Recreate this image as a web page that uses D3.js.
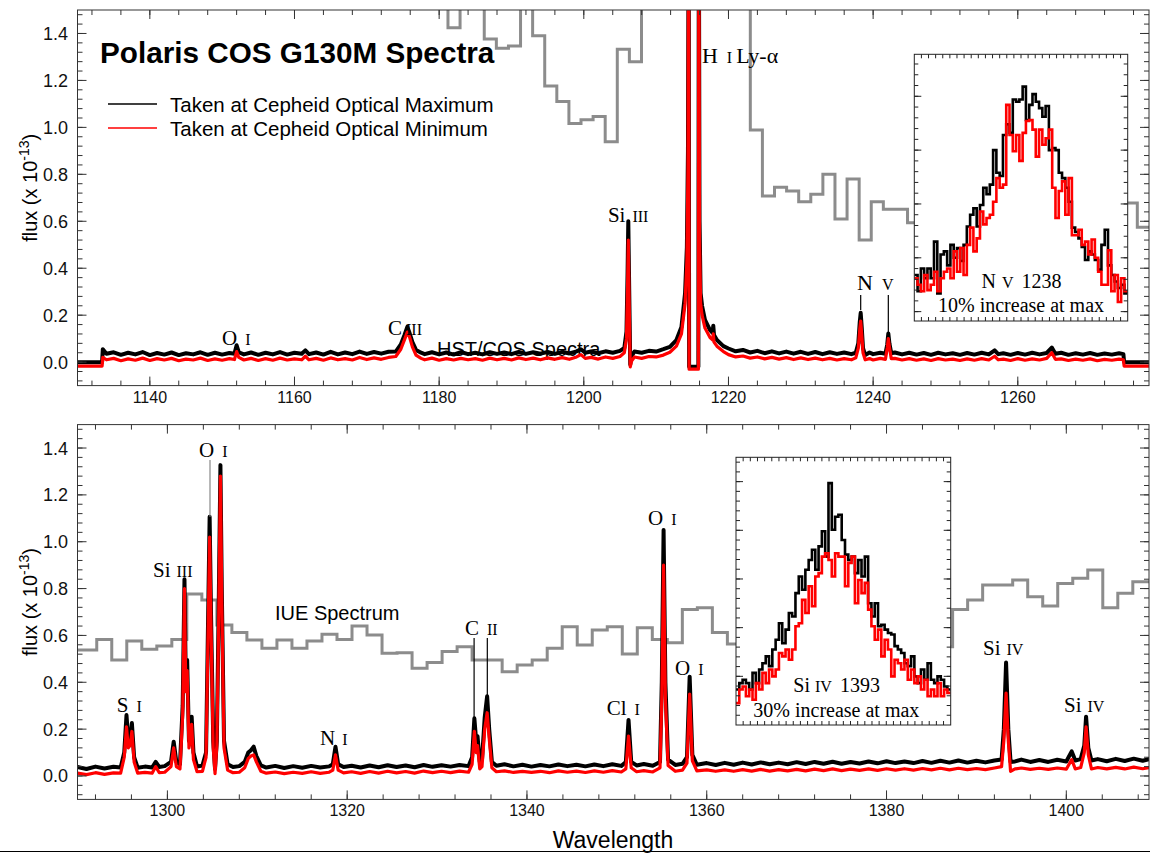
<!DOCTYPE html>
<html><head><meta charset="utf-8">
<script src="https://cdn.jsdelivr.net/npm/d3@7"></script>
<style>body{margin:0;background:#fff}svg{display:block}</style>
</head><body>
<svg id="c" width="1150" height="854"></svg>
<script>
// ---------------- DATA ----------------
const topXTicks = [1140,1160,1180,1200,1220,1240,1260];
const botXTicks = [1300,1320,1340,1360,1380,1400];
const yTicks = [0.0,0.2,0.4,0.6,0.8,1.0,1.2,1.4];
const legendLabels = ["Taken at Cepheid Optical Maximum","Taken at Cepheid Optical Minimum"];

// top panel COS spectrum rows: [wavelength, flux at max, flux at min]
const topSpec = [
[1130.0,0.000,-0.017],[1133.4,0.000,-0.017],[1133.5,0.055,0.020],[1134,0.036,0.010],[1135,0.042,0.016],[1136,0.031,0.006],
[1137,0.040,0.014],[1138,0.033,0.008],[1139,0.043,0.017],[1140,0.030,0.007],[1141,0.039,0.015],[1142,0.032,0.009],
[1143,0.041,0.016],[1144,0.030,0.006],[1145,0.038,0.013],[1146,0.033,0.009],[1147,0.042,0.017],[1148,0.031,0.007],
[1149,0.040,0.014],[1150,0.032,0.008],[1151,0.039,0.015],[1151.7,0.036,0.011],[1152.0,0.072,0.045],[1152.3,0.042,0.020],
[1153,0.033,0.009],[1154,0.041,0.016],[1155,0.031,0.007],[1156,0.040,0.015],[1157,0.033,0.008],[1158,0.043,0.017],
[1159,0.032,0.009],[1160,0.040,0.014],[1161,0.036,0.010],[1161.5,0.050,0.025],[1162,0.034,0.010],[1163,0.041,0.016],
[1164,0.032,0.008],[1165,0.044,0.018],[1166,0.033,0.010],[1167,0.041,0.015],[1168,0.034,0.009],[1169,0.045,0.020],
[1170,0.035,0.011],[1171,0.043,0.018],[1172,0.036,0.012],[1173,0.044,0.020],[1174,0.045,0.024],[1174.7,0.075,0.055],
[1175.2,0.115,0.095],[1175.6,0.150,0.128],[1175.9,0.125,0.108],[1176.3,0.085,0.065],[1176.8,0.052,0.030],[1177.5,0.040,0.016],
[1178,0.034,0.010],[1179,0.042,0.017],[1180,0.033,0.008],[1181,0.041,0.015],[1182,0.032,0.009],[1183,0.043,0.016],
[1184,0.034,0.010],[1185,0.040,0.015],[1186,0.033,0.008],[1187,0.042,0.017],[1188,0.035,0.010],[1189,0.041,0.016],
[1190,0.034,0.009],[1191,0.044,0.018],[1192,0.035,0.011],[1193,0.042,0.017],[1194,0.036,0.010],[1195,0.043,0.018],
[1196,0.035,0.012],[1197,0.044,0.019],[1198,0.037,0.012],[1199,0.046,0.022],[1199.6,0.055,0.032],[1200.2,0.040,0.016],
[1201,0.045,0.020],[1202,0.038,0.013],[1203,0.046,0.022],[1204,0.040,0.016],[1205,0.048,0.024],[1205.6,0.060,0.040],
[1205.9,0.130,0.100],[1206.05,0.380,0.320],[1206.15,0.600,0.520],[1206.28,0.300,0.240],[1206.42,-0.010,-0.020],[1206.6,0.025,0.005],
[1207,0.045,0.022],[1208,0.040,0.016],[1209,0.048,0.024],[1210,0.045,0.022],[1211,0.055,0.030],[1211.9,0.065,0.042],
[1212.8,0.094,0.068],[1213.5,0.150,0.120],[1214.0,0.294,0.250],[1214.25,0.490,0.430],[1214.4,0.900,0.820],[1214.5,2.000,2.000],
[1214.56,-0.020,-0.030],[1215.84,-0.020,-0.030],[1215.9,2.000,2.000],[1216.0,0.600,0.520],
[1216.15,0.294,0.250],[1216.35,0.240,0.200],
[1216.75,0.180,0.145],[1217.45,0.136,0.105],[1217.8,0.125,0.095],[1217.9,0.155,0.120],[1218.0,0.115,0.085],[1218.4,0.094,0.068],
[1219.3,0.068,0.045],[1220,0.058,0.032],[1221,0.046,0.022],[1222,0.052,0.026],[1223,0.041,0.017],[1224,0.048,0.022],
[1225,0.038,0.014],[1226,0.046,0.020],[1227,0.037,0.013],[1228,0.045,0.019],[1229,0.036,0.011],[1230,0.044,0.018],
[1231,0.035,0.011],[1232,0.043,0.017],[1233,0.034,0.010],[1234,0.042,0.016],[1235,0.035,0.009],[1236,0.041,0.015],
[1237,0.034,0.010],[1237.6,0.040,0.018],[1237.95,0.080,0.060],[1238.15,0.170,0.140],[1238.28,0.210,0.175],[1238.42,0.150,0.120],
[1238.6,0.060,0.040],[1238.9,0.030,0.010],[1239.5,0.041,0.015],[1240,0.034,0.009],[1241,0.040,0.016],[1241.7,0.036,0.012],
[1241.95,0.075,0.060],[1242.1,0.122,0.100],[1242.25,0.080,0.065],[1242.5,0.038,0.015],[1243,0.041,0.016],[1244,0.033,0.009],
[1245,0.040,0.015],[1246,0.032,0.008],[1247,0.039,0.014],[1248,0.031,0.007],[1249,0.040,0.015],[1250,0.033,0.009],
[1251,0.038,0.013],[1252,0.031,0.007],[1253,0.039,0.014],[1254,0.032,0.008],[1255,0.040,0.015],[1256,0.033,0.009],
[1256.8,0.050,0.025],[1257.3,0.034,0.010],[1258,0.038,0.013],[1259,0.031,0.007],[1260,0.039,0.015],[1261,0.032,0.008],
[1262,0.040,0.014],[1263,0.033,0.009],[1264,0.039,0.016],[1264.7,0.062,0.040],[1265.2,0.036,0.012],[1266,0.040,0.014],
[1267,0.031,0.007],[1268,0.038,0.013],[1269,0.032,0.008],[1270,0.039,0.014],[1271,0.031,0.006],[1272,0.037,0.012],
[1273,0.032,0.008],[1274,0.038,0.013],[1274.6,0.034,0.010],[1274.7,0.000,-0.017],[1280,0.000,-0.017]
];

// bottom panel COS spectrum rows: [wavelength, flux at max, flux at min]
const botSpec = [
[1290.0,0.038,0.012],[1291,0.030,0.006],[1292,0.040,0.014],[1293,0.032,0.007],[1294,0.039,0.013],[1294.8,0.036,0.012],
[1295.2,0.100,0.080],[1295.45,0.260,0.210],[1295.65,0.150,0.120],[1295.85,0.150,0.130],[1296.05,0.226,0.190],[1296.3,0.080,0.060],
[1296.7,0.035,0.012],[1297.5,0.040,0.015],[1298.3,0.036,0.012],[1298.7,0.060,0.040],[1299.1,0.038,0.014],[1299.7,0.042,0.016],
[1300.4,0.060,0.040],[1300.7,0.146,0.120],[1301.0,0.060,0.040],[1301.4,0.050,0.030],[1301.7,0.300,0.260],[1301.9,0.840,0.800],
[1302.05,0.400,0.360],[1302.2,0.495,0.450],[1302.4,0.150,0.120],[1302.55,0.180,0.150],[1302.7,0.253,0.220],[1302.9,0.100,0.070],
[1303.3,0.040,0.018],[1303.9,0.045,0.020],[1304.3,0.100,0.080],[1304.5,0.600,0.550],[1304.7,1.107,1.020],[1304.85,0.700,0.640],
[1305.1,0.150,0.120],[1305.3,0.030,0.010],[1305.5,0.150,0.130],[1305.7,0.700,0.650],[1305.9,1.327,1.280],[1306.05,0.800,0.750],
[1306.3,0.150,0.120],[1306.7,0.050,0.025],[1307.3,0.038,0.014],[1308.0,0.042,0.016],[1308.6,0.060,0.035],[1309.0,0.100,0.075],
[1309.3,0.110,0.085],[1309.6,0.125,0.090],[1309.9,0.085,0.060],[1310.4,0.045,0.020],[1311,0.036,0.012],[1312,0.043,0.017],
[1313,0.034,0.010],[1314,0.042,0.016],[1315,0.035,0.011],[1316,0.043,0.018],[1317,0.036,0.011],[1318,0.041,0.016],
[1318.4,0.050,0.025],[1318.7,0.125,0.090],[1319.0,0.050,0.025],[1319.6,0.038,0.013],[1320.5,0.044,0.018],[1321.5,0.036,0.011],
[1322.5,0.045,0.019],[1323.5,0.037,0.012],[1324.5,0.046,0.020],[1325.5,0.038,0.013],[1326.5,0.045,0.019],[1327.5,0.037,0.012],
[1328.5,0.047,0.021],[1329.5,0.039,0.014],[1330.5,0.046,0.020],[1331.5,0.040,0.014],[1332.5,0.047,0.021],[1333.5,0.042,0.016],
[1333.9,0.080,0.050],[1334.15,0.246,0.190],[1334.35,0.150,0.100],[1334.5,0.170,0.130],[1334.75,0.060,0.030],[1335.0,0.070,0.040],
[1335.3,0.250,0.200],[1335.57,0.340,0.270],[1335.8,0.200,0.160],[1336.1,0.060,0.035],[1336.6,0.044,0.018],[1337.5,0.050,0.022],
[1338.5,0.041,0.015],[1339.5,0.048,0.020],[1340.5,0.040,0.015],[1341.5,0.047,0.020],[1342.5,0.041,0.014],[1343.5,0.049,0.022],
[1344.5,0.042,0.016],[1345.5,0.048,0.021],[1346.5,0.041,0.015],[1347.5,0.049,0.022],[1348.5,0.042,0.016],[1349.5,0.050,0.023],
[1350.5,0.043,0.017],[1351.0,0.060,0.030],[1351.3,0.239,0.170],[1351.6,0.060,0.035],[1352.2,0.045,0.018],[1353.0,0.051,0.023],
[1354.0,0.044,0.017],[1354.8,0.060,0.035],[1355.0,0.400,0.330],[1355.2,1.050,0.900],[1355.4,0.400,0.330],[1355.7,0.070,0.045],
[1356.5,0.047,0.020],[1357.3,0.052,0.025],[1357.8,0.080,0.055],[1358.1,0.424,0.350],[1358.4,0.090,0.065],[1358.9,0.048,0.022],
[1360,0.055,0.026],[1361,0.047,0.020],[1362,0.056,0.026],[1363,0.048,0.020],[1364,0.057,0.027],[1365,0.049,0.021],
[1366,0.058,0.028],[1367,0.050,0.021],[1368,0.057,0.027],[1369,0.050,0.022],[1370,0.059,0.028],[1371,0.051,0.022],
[1372,0.060,0.029],[1373,0.052,0.023],[1374,0.061,0.030],[1375,0.052,0.023],[1376,0.060,0.029],[1377,0.053,0.024],
[1378,0.062,0.030],[1379,0.054,0.024],[1380,0.063,0.031],[1381,0.055,0.025],[1382,0.062,0.031],[1383,0.055,0.025],
[1384,0.064,0.032],[1385,0.056,0.026],[1386,0.065,0.033],[1387,0.057,0.026],[1388,0.066,0.033],[1389,0.057,0.027],
[1390,0.065,0.032],[1391,0.058,0.027],[1392,0.066,0.034],[1392.8,0.070,0.040],[1393.05,0.200,0.150],[1393.3,0.484,0.354],
[1393.55,0.200,0.150],[1393.8,0.060,0.020],[1394.3,0.062,0.030],[1395,0.070,0.034],[1396,0.060,0.028],[1397,0.068,0.033],
[1398,0.060,0.028],[1399,0.069,0.034],[1400,0.062,0.029],[1400.6,0.105,0.070],[1401.0,0.066,0.030],[1401.6,0.072,0.036],
[1402.0,0.130,0.100],[1402.2,0.253,0.210],[1402.45,0.120,0.090],[1402.8,0.066,0.030],[1403.5,0.072,0.036],[1404.5,0.063,0.030],
[1405.5,0.073,0.037],[1406.5,0.064,0.030],[1407.5,0.074,0.038],[1408.5,0.065,0.031],[1409.5,0.075,0.038],[1410.5,0.066,0.032]
];

// IUE low-resolution spectra (step bins): first bin start, bin width (A), fluxes
const topIueStart = 1179.548, topIueBin = 1.672;
const topIue = [1.70,1.424,1.70,1.70,1.376,1.337,1.347,1.70,1.390,1.176,1.110,1.017,1.032,1.046,0.939,1.333,1.280,
 1.70,1.70,1.70,1.70,1.70,1.70,1.70,1.70,1.70,0.989,0.708,0.745,0.729,0.683,0.715,0.800,0.610,0.780,0.520,0.683,0.651,0.651,0.594,
 0.62,0.60,0.64,0.61,0.58,0.63,0.60,0.62,0.65,0.61,0.59,0.63,0.66,0.62,0.60,0.64,0.63,0.678,0.575,0.575];
const botIueStart = 1288.80, botIueBin = 1.6704;
const botIue = [0.538,0.538,0.583,0.495,0.576,0.541,0.555,0.583,0.777,0.751,0.644,0.612,0.580,0.545,0.580,0.545,0.576,0.605,0.583,
 0.640,0.602,0.524,0.526,0.460,0.484,0.531,0.552,0.495,0.495,0.445,0.474,0.495,0.545,0.637,0.559,0.623,0.637,0.521,0.633,0.583,
 0.569,0.711,0.718,0.612,0.563,0.58,0.62,0.60,0.64,0.66,0.63,0.61,0.65,0.67,0.64,0.66,0.62,0.65,0.552,0.711,0.751,0.815,0.815,
 0.837,0.765,0.726,0.822,0.844,0.879,0.718,0.780,0.829,0.829];

// insets (histogram bins, evenly spaced across inset wavelength window)
const nvWindow = [1237.3,1240.3];
const nvMax = [0.034,0.019,0.040,0.031,0.040,0.031,0.065,0.017,0.053,0.056,0.043,0.062,0.050,0.059,0.047,0.062,0.079,0.090,0.096,0.079,
 0.099,0.115,0.109,0.118,0.150,0.129,0.126,0.164,0.174,0.166,0.197,0.195,0.197,0.209,0.178,0.192,0.202,0.195,0.189,0.181,
 0.191,0.150,0.152,0.150,0.129,0.124,0.115,0.102,0.078,0.074,0.068,0.060,0.048,0.056,0.053,0.048,0.039,0.062,0.076,0.043,
 0.034,0.028,0.022,0.025,0.017];
const nvMin = [0.031,0.025,0.019,0.034,0.020,0.025,0.037,0.019,0.031,0.037,0.040,0.031,0.056,0.037,0.059,0.034,0.062,0.078,0.056,0.068,
 0.093,0.081,0.087,0.090,0.102,0.124,0.115,0.118,0.192,0.164,0.149,0.164,0.140,0.166,0.177,0.178,0.169,0.144,0.169,0.155,
 0.161,0.169,0.115,0.087,0.112,0.121,0.090,0.124,0.071,0.071,0.076,0.062,0.065,0.053,0.067,0.050,0.037,0.025,0.025,0.057,
 0.019,0.034,0.009,0.031,0.019];
const siWindow = [1392.3,1395.3];
const siMax = [0.073,0.086,0.093,0.086,0.073,0.107,0.086,0.114,0.127,0.141,0.121,0.155,0.175,0.209,0.168,0.196,0.230,0.223,0.271,0.305,
 0.278,0.319,0.339,0.360,0.319,0.367,0.398,0.346,0.497,0.401,0.428,0.432,0.380,0.350,0.339,0.346,0.312,0.339,0.305,0.346,
 0.250,0.223,0.250,0.203,0.206,0.196,0.189,0.186,0.162,0.155,0.148,0.127,0.121,0.141,0.100,0.086,0.114,0.093,0.127,0.093,
 0.086,0.100,0.093,0.079,0.073];
const siMin = [0.045,0.073,0.079,0.059,0.073,0.052,0.086,0.073,0.107,0.086,0.114,0.100,0.114,0.148,0.141,0.155,0.134,0.155,0.203,0.209,
 0.257,0.230,0.285,0.244,0.305,0.312,0.346,0.353,0.339,0.305,0.353,0.346,0.346,0.285,0.333,0.346,0.250,0.298,0.271,0.292,
 0.237,0.203,0.175,0.196,0.141,0.175,0.155,0.100,0.134,0.127,0.114,0.134,0.093,0.114,0.086,0.100,0.073,0.093,0.059,0.073,
 0.059,0.086,0.059,0.073,0.066];

// line identifications: anchor (wavelength, flux) of label baseline start
const topLabels = [
 {lam:1149.98,val:0.073,parts:[["O",21,0],["I",16,8]]},
 {lam:1172.93,val:0.115,parts:[["C",21,0],["III",16,4]]},
 {lam:1203.33,val:0.597,parts:[["Si",21,0],["III",16,7]]},
 {lam:1216.33,val:1.274,parts:[["H",22,0],["I",16,9],["Ly-α",22,4]]},
 {lam:1237.77,val:0.307,parts:[["N",22,0]]},
 {lam:1241.23,val:0.307,parts:[["V",16,0]]}
];
const topLines = [{lam:1238.28,from:0.286,to:0.222,color:"#000"},{lam:1242.1,from:0.286,to:0.124,color:"#000"}];
const botLabels = [
 {lam:1294.36,val:0.274,parts:[["S",21,0],["I",16,8]]},
 {lam:1298.40,val:0.848,parts:[["Si",21,0],["III",16,6]]},
 {lam:1303.52,val:1.363,parts:[["O",21,0],["I",16,8]]},
 {lam:1316.98,val:0.132,parts:[["N",21,0],["I",16,7]]},
 {lam:1333.11,val:0.602,parts:[["C",21,0],["II",16,8]]},
 {lam:1348.87,val:0.260,parts:[["Cl",21,0],["I",16,8]]},
 {lam:1353.47,val:1.071,parts:[["O",21,0],["I",16,8]]},
 {lam:1356.47,val:0.431,parts:[["O",21,0],["I",16,8]]},
 {lam:1390.73,val:0.516,parts:[["Si",21,0],["IV",16,6]]},
 {lam:1399.74,val:0.274,parts:[["Si",21,0],["IV",16,6]]}
];
const botLines = [{lam:1304.74,from:1.349,to:1.107,color:"#888"},{lam:1334.12,from:0.589,to:0.248,color:"#000"},{lam:1335.59,from:0.589,to:0.341,color:"#000"}];

// ---------------- DRAWING ----------------
const svg = d3.select("#c");
const SANS = "'Liberation Sans', Arial, sans-serif";
const SERIF = "'Liberation Serif', 'Times New Roman', serif";
const plotL = 77.5, plotR = 1149;
const fluxDomain = [-0.1, 1.5];
const panels = [
 {id:"top", y0:10, y1:385.6, xd:[1130,1278.14], spec:topSpec, iue:topIue, iueStart:topIueStart, iueBin:topIueBin,
  xt:topXTicks, xminor:d3.range(1132,1279,4), labels:topLabels, lines:topLines},
 {id:"bot", y0:424.6, y1:799.4, xd:[1290,1409.2], spec:botSpec, iue:botIue, iueStart:botIueStart, iueBin:botIueBin,
  xt:botXTicks, xminor:d3.range(1292,1410,4), labels:botLabels, lines:botLines}
];

function addParts(g, x, y, parts, family) {
  const t = g.append("text").attr("x", x).attr("y", y).attr("font-family", family).attr("fill", "#000");
  parts.forEach(p => t.append("tspan").attr("font-size", p[1]).attr("dx", p[2]).text(p[0]));
  return t;
}

function stepPoints(start, bin, vals) {
  const pts = vals.map((v, i) => [start + i * bin, v]);
  pts.push([start + vals.length * bin, vals[vals.length - 1]]);
  return pts;
}

function frameTicks(g, x, y, xMajor, xMinor, yMajor, yMinor, majLen, minLen, stroke) {
  const [xa, xb] = x.range(), [yb, ya] = y.range();
  const tk = g.append("g").attr("stroke", stroke).attr("stroke-width", 1);
  const xt = (v, len) => {
    tk.append("line").attr("x1", x(v)).attr("x2", x(v)).attr("y1", yb).attr("y2", yb - len);
    tk.append("line").attr("x1", x(v)).attr("x2", x(v)).attr("y1", ya).attr("y2", ya + len);
  };
  const yt = (v, len) => {
    tk.append("line").attr("y1", y(v)).attr("y2", y(v)).attr("x1", xa).attr("x2", xa + len);
    tk.append("line").attr("y1", y(v)).attr("y2", y(v)).attr("x1", xb).attr("x2", xb - len);
  };
  xMinor.forEach(v => xt(v, minLen)); xMajor.forEach(v => xt(v, majLen));
  yMinor.forEach(v => yt(v, minLen)); yMajor.forEach(v => yt(v, majLen));
  g.append("rect").attr("x", xa).attr("y", ya).attr("width", xb - xa).attr("height", yb - ya)
    .attr("fill", "none").attr("stroke", stroke).attr("stroke-width", 1);
}

panels.forEach(p => {
  const x = d3.scaleLinear().domain(p.xd).range([plotL, plotR]);
  const y = d3.scaleLinear().domain(fluxDomain).range([p.y1, p.y0]);
  p.x = x; p.y = y;
  const g = svg.append("g");
  const clipId = "clip-" + p.id;
  svg.append("clipPath").attr("id", clipId).append("rect")
    .attr("x", plotL).attr("y", p.y0).attr("width", plotR - plotL).attr("height", p.y1 - p.y0);
  const body = g.append("g").attr("clip-path", `url(#${clipId})`);

  // IUE
  body.append("path").datum(stepPoints(p.iueStart, p.iueBin, p.iue))
    .attr("fill", "none").attr("stroke", "#8c8c8c").attr("stroke-width", 3)
    .attr("d", d3.line().x(d => x(d[0])).y(d => y(d[1])).curve(d3.curveStepAfter));

  if (p.id === "top") {
    body.append("text").attr("x", x(1179.7)).attr("y", y(0.026)).attr("font-family", SANS)
      .attr("font-size", 20).text("HST/COS Spectra");
  } else {
    body.append("text").attr("x", x(1311.97)).attr("y", y(0.666)).attr("font-family", SANS)
      .attr("font-size", 20).text("IUE Spectrum");
  }

  const lineMax = d3.line().x(d => x(d[0])).y(d => y(d[1]));
  const lineMin = d3.line().x(d => x(d[0])).y(d => y(d[2]));
  body.append("path").datum(p.spec).attr("fill", "none").attr("stroke", "#000")
    .attr("stroke-width", 4).attr("stroke-linejoin", "round").attr("d", lineMax);
  body.append("path").datum(p.spec).attr("fill", "none").attr("stroke", "#ff0000")
    .attr("stroke-width", 3.2).attr("stroke-linejoin", "round").attr("d", lineMin);

  p.lines.forEach(l => body.append("line").attr("x1", x(l.lam)).attr("x2", x(l.lam))
    .attr("y1", y(l.from)).attr("y2", y(l.to)).attr("stroke", l.color).attr("stroke-width", 1.2));
  p.labels.forEach(l => addParts(body, x(l.lam), y(l.val), l.parts, SERIF));

  p.g = g;
});

// insets
const insets = [
 {panel:0, x0:914.3, x1:1127.7, y0:54.3, y1:321, xw:nvWindow, yd:[-0.0087,0.239], yMaj:[0,0.05,0.10,0.15,0.20],
  yMin:d3.range(0,0.235,0.01), max:nvMax, min:nvMin,
  title:[["N",20,0],["V",16,6],["1238",20,8]], tx:981.5, ty:288.3, note:"10% increase at max", nx:938, ny:311.7},
 {panel:1, x0:736, x1:950.7, y0:457.3, y1:725, xw:siWindow, yd:[0,0.55], yMaj:[0.1,0.2,0.3,0.4,0.5],
  yMin:d3.range(0.02,0.55,0.02), max:siMax, min:siMin,
  title:[["Si",20,0],["IV",16,5],["1393",20,8]], tx:793.3, ty:691.7, note:"30% increase at max", nx:753.3, ny:716.7}
];
insets.forEach(ins => {
  const g = panels[ins.panel].g.append("g");
  const x = d3.scaleLinear().domain(ins.xw).range([ins.x0, ins.x1]);
  const y = d3.scaleLinear().domain(ins.yd).range([ins.y1, ins.y0]);
  g.append("rect").attr("x", ins.x0).attr("y", ins.y0).attr("width", ins.x1 - ins.x0).attr("height", ins.y1 - ins.y0).attr("fill", "#fff");
  const cid = "clip-in-" + ins.panel;
  svg.append("clipPath").attr("id", cid).append("rect").attr("x", ins.x0).attr("y", ins.y0)
    .attr("width", ins.x1 - ins.x0).attr("height", ins.y1 - ins.y0);
  const b = g.append("g").attr("clip-path", `url(#${cid})`);
  const step = d3.line().x(d => x(d[0])).y(d => y(d[1])).curve(d3.curveStepAfter);
  const bw = (ins.xw[1] - ins.xw[0]) / ins.max.length;
  const bwm = (ins.xw[1] - ins.xw[0]) / ins.min.length;
  b.append("path").datum(stepPoints(ins.xw[0], bw, ins.max)).attr("fill", "none").attr("stroke", "#000").attr("stroke-width", 2.6).attr("d", step);
  b.append("path").datum(stepPoints(ins.xw[0], bwm, ins.min)).attr("fill", "none").attr("stroke", "#ff0000").attr("stroke-width", 2.6).attr("d", step);
  addParts(g, ins.tx, ins.ty, ins.title, SERIF);
  g.append("text").attr("x", ins.nx).attr("y", ins.ny).attr("font-family", SERIF).attr("font-size", 20).text(ins.note);
  const xTicks = d3.range(Math.ceil(ins.xw[0] * 10) / 10 + 0.1, ins.xw[1] - 0.01, 0.1);
  frameTicks(g, x, y, [], xTicks, ins.yMaj, ins.yMin, 7, 4, "#222");
});

// axes frames on top
panels.forEach(p => {
  const g = p.g;
  const x = p.x, y = p.y;
  const yMinor = d3.range(-0.08, 1.5, 0.04);
  frameTicks(g, x, y, p.xt, p.xminor, yTicks, yMinor, 9, 5, "#333");
  g.append("g").selectAll("text").data(p.xt).join("text")
    .attr("x", d => x(d)).attr("y", p.y1 + 17).attr("text-anchor", "middle")
    .attr("font-family", SANS).attr("font-size", 16).attr("fill", "#111").text(d => d);
  g.append("g").selectAll("text").data(yTicks).join("text")
    .attr("x", 68).attr("y", d => y(d) + 6.5).attr("text-anchor", "end")
    .attr("font-family", SANS).attr("font-size", 18).attr("fill", "#111").text(d => d3.format(".1f")(d));
  const cy = (p.y0 + p.y1) / 2 - 10;
  const t = g.append("text").attr("transform", `translate(37,${cy}) rotate(-90)`).attr("text-anchor", "middle")
    .attr("font-family", SANS).attr("font-size", 20).attr("fill", "#000");
  t.append("tspan").text("flux (x 10");
  t.append("tspan").attr("font-size", 14).attr("dy", -8).text("-13");
  t.append("tspan").attr("dy", 8).text(")");
});

// title & legend
svg.append("text").attr("x", 100).attr("y", 63.3).attr("font-family", SANS).attr("font-weight", "bold")
  .attr("font-size", 29.7).text("Polaris COS G130M Spectra");
const legColors = ["#000", "#ff0000"];
legendLabels.forEach((s, i) => {
  const yy = 104 + i * 24;
  svg.append("line").attr("x1", 108).attr("x2", 157).attr("y1", yy).attr("y2", yy).attr("stroke", legColors[i]).attr("stroke-width", 1.5);
  svg.append("text").attr("x", 170).attr("y", yy + 7.5).attr("font-family", SANS).attr("font-size", 20.5).text(s);
});
// x title and bottom rule
svg.append("text").attr("x", 613).attr("y", 848).attr("text-anchor", "middle").attr("font-family", SANS).attr("font-size", 23).text("Wavelength");
svg.append("line").attr("x1", 0).attr("x2", 1150).attr("y1", 851.5).attr("y2", 851.5).attr("stroke", "#000").attr("stroke-width", 1);
</script>
</body></html>
